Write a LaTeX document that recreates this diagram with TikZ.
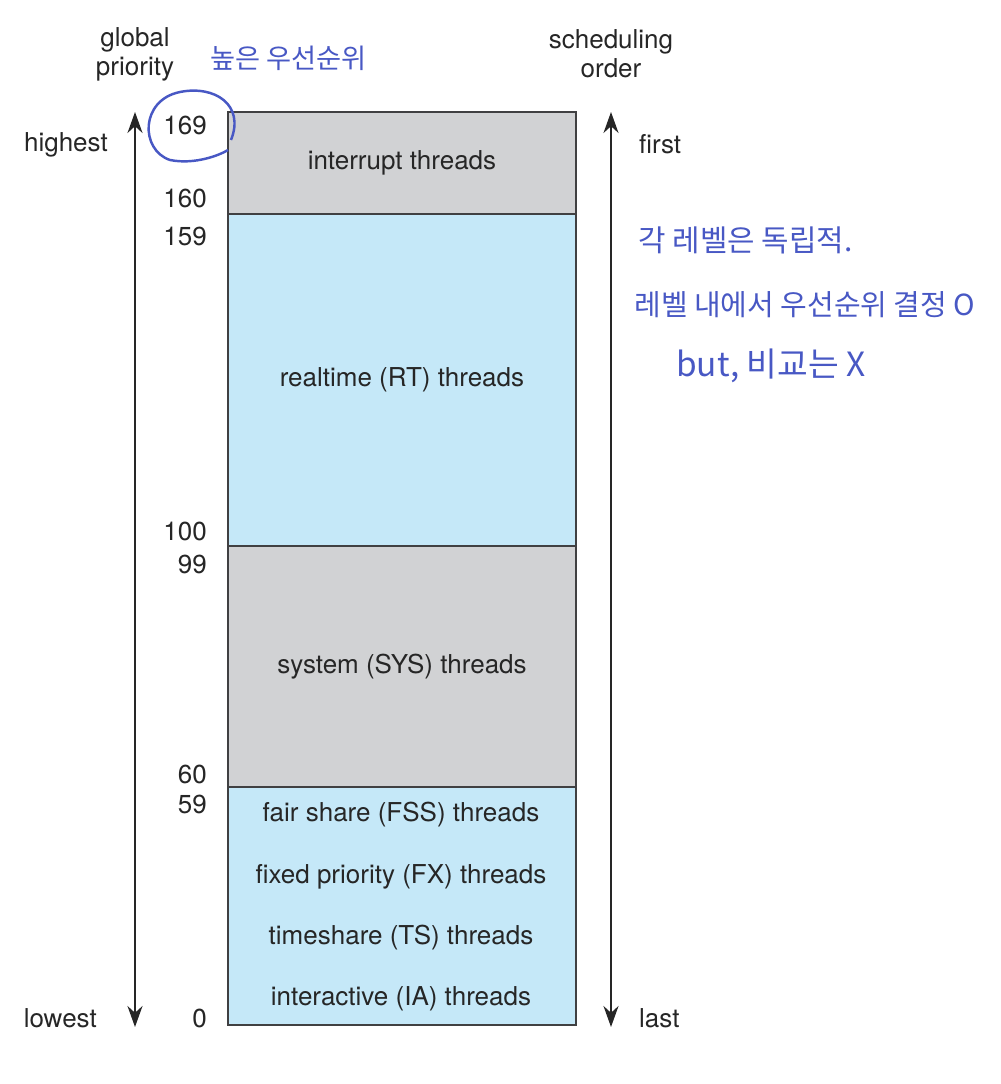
\documentclass[tikz,border=0pt]{standalone}
\usepackage{fontspec}
\setmainfont{TeX Gyre Heros}
\newfontfamily\hangul{Noto Sans CJK KR}
\usetikzlibrary{arrows.meta,positioning}
\definecolor{lvlgray}{RGB}{209,210,212}
\definecolor{lvlblue}{RGB}{197,232,248}
\definecolor{edgegray}{RGB}{64,64,66}
\definecolor{inkblue}{RGB}{72,88,196}

\begin{document}
\begin{tikzpicture}[x=0.02cm,y=-0.02cm,
  font=\fontsize{14.8}{17}\selectfont,
  lvl/.style={draw=edgegray,line width=0.9pt,minimum width=6.96cm,inner sep=0pt,outer sep=0pt,text=black!85},
  num/.style={anchor=east,text=black!85},
  side/.style={text=black!85},
  hdr/.style={align=center,text=black!85,font=\fontsize{14.8}{16.5}\selectfont},
  arr/.style={{Stealth[length=4.2mm,width=3mm]}-{Stealth[length=4.2mm,width=3mm]},line width=1.3pt,black!85},
  memo/.style={text=inkblue,anchor=west,inner sep=0pt}]
\useasboundingbox (0,0) rectangle (1000,1084);
% priority levels
\node[lvl,fill=lvlgray,minimum height=2.04cm,anchor=north west] (intr) at (228,112) {interrupt threads};
\node[lvl,fill=lvlblue,minimum height=6.64cm,below=0pt of intr] (rt) {realtime (RT) threads};
\node[lvl,fill=lvlgray,minimum height=4.82cm,below=0pt of rt] (sys) {system (SYS) threads};
\node[lvl,fill=lvlblue,minimum height=4.76cm,below=0pt of sys] (usr) {};
\foreach \y/\t in {815/fair share (FSS) threads,877/fixed priority (FX) threads,938/timeshare (TS) threads,999/interactive (IA) threads}
  \node[side] at (401,\y) {\t};
% priority numbers
\foreach \y/\n in {125/169,198/160,236/159,531/100,564/99,774/60,804/59,1018/0}
  \node[num] at (213,\y) {\n};
% axes
\node[hdr] (gp) at (135,54) {global\\priority};
\node[hdr] (so) at (611,54) {scheduling\\order};
\coordinate (gtop) at (135,112);
\coordinate (gbot) at (135,1027);
\coordinate (stop) at (611,112);
\coordinate (sbot) at (611,1027);
\draw[arr] (gbot) -- (gtop);
\draw[arr] (sbot) -- (stop);
\node[side,anchor=east] (hi) at (114,145) {highest};
\node[side,anchor=east] (lo) at (103,1018) {lowest};
\node[side,anchor=west] (fi) at (633,144) {first};
\node[side,anchor=west] (la) at (633,1018) {last};
% handwritten notes
\draw[inkblue,line width=1.4pt] (231,140) .. controls (245,105) and (215,85) .. (180,92)
  .. controls (140,100) and (140,150) .. (170,160) .. controls (195,165) and (220,155) .. (228,150);
\node[memo,font=\hangul\fontsize{15.5}{18}\selectfont] (m0) at (210,58) {높은 우선순위};
\node[memo,font=\hangul\fontsize{17}{20}\selectfont] (m1) at (638,240) {각 레벨은 독립적.};
\node[memo,font=\hangul\fontsize{16.5}{20}\selectfont] (m2) at (634,305) {레벨 내에서 우선순위 결정 O};
\node[memo,font=\hangul\fontsize{19}{22}\selectfont] (m3) at (676,366) {but, 비교는 X};
\end{tikzpicture}
\end{document}
